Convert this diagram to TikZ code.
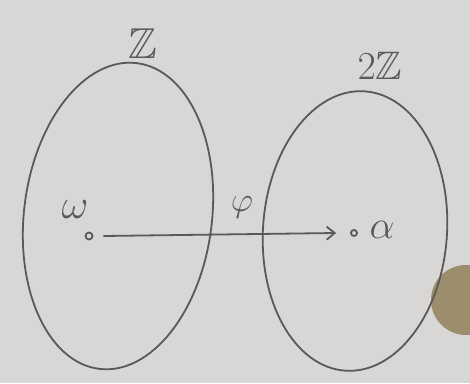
\documentclass[tikz,border=0pt]{standalone}
\usepackage{amssymb}
\usetikzlibrary{shapes.geometric,arrows.meta}
\definecolor{paper}{HTML}{D9D7D6}
\definecolor{ink}{HTML}{5A5858}
\definecolor{blob}{HTML}{9C8D6C}
\begin{document}
\begin{tikzpicture}[x=1pt,y=1pt,
  pen/.style={draw=ink, line width=1.8pt},
  setshape/.style={pen, ellipse, inner sep=0pt},
  dotpt/.style={circle, draw=ink, line width=1.8pt, inner sep=0pt, minimum size=7pt},
  lbl/.style={text=ink, font=\LARGE, transform shape}]
\fill[paper] (0,0) rectangle (470,383);
\useasboundingbox (0,0) rectangle (470,383);
\begin{scope}
\clip (0,0) rectangle (470,383);
\fill[blob] (466,83) circle (35);
\end{scope}
\node[setshape, minimum width=188pt, minimum height=308pt, rotate=-7] (Z) at (118,167) {};
\node[setshape, minimum width=184pt, minimum height=280pt, rotate=-4] (Z2) at (355,152) {};
\node[lbl, scale=2.5] (lz) at (143,339) {$\mathbb{Z}$};
\node[lbl, scale=2.3] (l2z) at (380,317) {$2\mathbb{Z}$};
\node[dotpt] (w) at (89,147) {};
\node[lbl, scale=2.4] (lw) at (75,173) {$\omega$};
\node[dotpt, minimum size=6pt] (a) at (354,150) {};
\node[lbl, scale=2.3] (la) at (382,153) {$\alpha$};
\coordinate (as) at ([xshift=10pt]w.east);
\coordinate (ae) at ([xshift=-14pt]a.west);
\draw[pen, -{Straight Barb[length=8pt,width=13pt]}] (as) -- (ae);
\node[lbl, scale=2] (phi) at (242,176) {$\varphi$};
\end{tikzpicture}
\end{document}
